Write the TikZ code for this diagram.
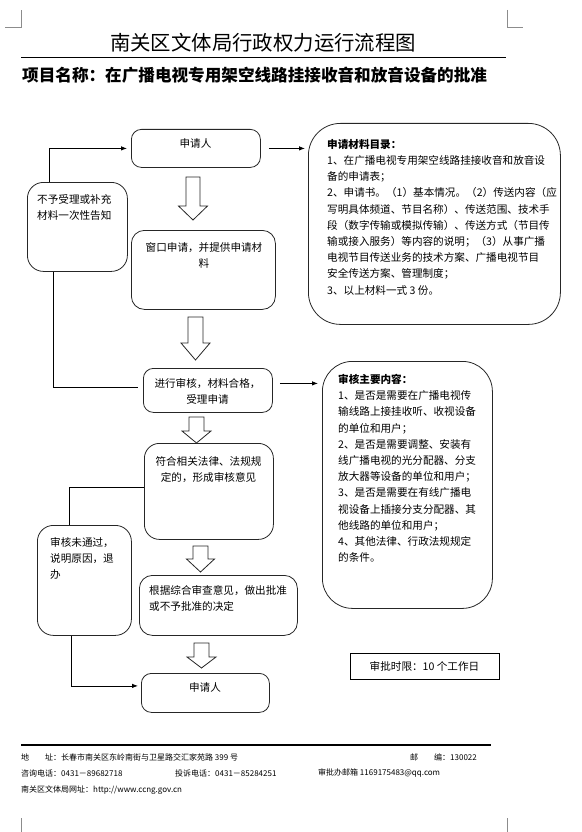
\documentclass[tikz,border=0pt]{standalone}
\usepackage{fontspec}
\setmainfont{Noto Sans CJK SC}
\usetikzlibrary{arrows.meta,calc}
\newcommand\hollowarr[6]{% cx, ytop, yhead, ytip, shaft half, head half
  \draw[hollow] ({#1-#5},#2) -- ({#1+#5},#2) -- ({#1+#5},#3) -- ({#1+#6},#3) -- (#1,#4)
    -- ({#1-#6},#3) -- ({#1-#5},#3) -- cycle;}
\begin{document}
\begin{tikzpicture}[x=1pt,y=-1pt,
  box/.style={draw=black!85, line width=0.8pt, rounded corners=#1, inner sep=0pt, anchor=north west},
  box/.default=10pt,
  txt/.style={inner sep=0pt, font=\fontsize{10.6}{16.2}\selectfont, align=left},
  btxt/.style={inner sep=0pt, font=\fontsize{10.6}{16.2}\selectfont, align=center},
  ftxt/.style={inner sep=0pt, font=\fontsize{8}{10}\selectfont, anchor=west},
  conn/.style={draw=black, line width=0.8pt},
  arr/.style={conn, -{Latex[length=6pt,width=4.5pt]}},
  hollow/.style={draw=black!85, line width=0.8pt, fill=white},
  cropmark/.style={draw=black!45, line width=0.7pt}
]
\useasboundingbox (0,0) rectangle (581,832);
% corner marks
\draw[cropmark] (5,27) -- (21,27) -- (21,10);
\draw[cropmark] (507,10) -- (507,27) -- (523,27);
\draw[cropmark] (21,818) -- (21,832);
\draw[cropmark] (507,818) -- (507,832);
% title
\node[inner sep=0pt, font=\fontsize{20.4}{24}\selectfont] (title) at (263,43) {南关区文体局行政权力运行流程图};
\draw[line width=0.8pt] (21,57) -- (506,57);
\node[inner sep=0pt, anchor=west, font=\fontsize{16.6}{20}\selectfont\bfseries] (sub) at (22,75) {项目名称：在广播电视专用架空线路挂接收音和放音设备的批准};
% boxes
\node[box=10pt, minimum width=129pt, minimum height=38pt] (ap1) at (131,129) {};
\node[btxt] (ap1t) at (195.5,143) {申请人};
\node[box=16pt, minimum width=100pt, minimum height=89pt] (nb) at (27,182) {};
\node[txt, anchor=north west] (nbt) at (37,194) {不予受理或补充\\材料一次性告知};
\node[box=13pt, minimum width=144pt, minimum height=79pt] (ck) at (131,230) {};
\node[btxt, anchor=north] (ckt) at (204,242) {窗口申请，并提供申请材\\料};
\node[box=32pt, minimum width=252pt, minimum height=201pt] (mat) at (308,123) {};
\node[txt, anchor=north west] (matt) at (327,139) {\textbf{申请材料目录：}\\
1、在广播电视专用架空线路挂接收音和放音设\\
备的申请表；\\
2、申请书。（1）基本情况。（2）传送内容（应\\
写明具体频道、节目名称）、传送范围、技术手\\
段（数字传输或模拟传输）、传送方式（节目传\\
输或接入服务）等内容的说明；（3）从事广播\\
电视节目传送业务的技术方案、广播电视节目\\
安全传送方案、管理制度；\\
3、以上材料一式 3 份。};
\node[box=10pt, minimum width=129pt, minimum height=44pt] (sh) at (143,368) {};
\node[btxt, anchor=north] (sht) at (207.5,378) {进行审核，材料合格，\\受理申请};
\node[box=30pt, minimum width=170pt, minimum height=247pt] (nr) at (322,361) {};
\node[txt, anchor=north west] (nrt) at (338,374) {\textbf{审核主要内容：}\\
1、是否是需要在广播电视传\\
输线路上接挂收听、收视设备\\
的单位和用户；\\
2、是否是需要调整、安装有\\
线广播电视的光分配器、分支\\
放大器等设备的单位和用户；\\
3、是否是需要在有线广播电\\
视设备上插接分支分配器、其\\
他线路的单位和用户；\\
4、其他法律、行政法规规定\\
的条件。};
\node[box=15pt, minimum width=129pt, minimum height=96pt] (fh) at (144,443) {};
\node[btxt, anchor=north] (fht) at (208.5,456) {符合相关法律、法规规\\定的，形成审核意见};
\node[box=16pt, minimum width=94pt, minimum height=110pt] (wtg) at (37,525) {};
\node[txt, anchor=north west] (wtgt) at (50,537) {审核未通过，\\说明原因，退\\办};
\node[box=13pt, minimum width=158pt, minimum height=60pt] (gj) at (139,575) {};
\node[txt, anchor=north west] (gjt) at (149,585) {根据综合审查意见，做出批准\\或不予批准的决定};
\node[box=10pt, minimum width=128pt, minimum height=39pt] (ap2) at (141,673) {};
\node[btxt] (ap2t) at (205,687) {申请人};
\node[draw=black, line width=1.3pt, inner sep=0pt, anchor=north west, minimum width=149pt, minimum height=26pt] (sx) at (350,653) {};
\node[btxt] (sxt) at (424.5,666) {审批时限：10 个工作日};
% connectors
\draw[arr, shorten >=4pt] ($(nb.north west)+(22,0)$) |- (ap1.west);
\draw[arr, shorten >=3pt] ($(ap1.east)+(8,0)$) -- (mat.west |- ap1.east);
\draw[conn] ($(nb.south west)+(26,0)$) |- ($(sh.west)+(-5,-3)$);
\draw[arr, shorten >=4pt] ($(sh.east)+(7,-7)$) -- ($(nr.west |- sh.east)+(0,-7)$);
\draw[conn] ($(fh.west)+(0,-4)$) -| ($(wtg.north west)+(32,0)$);
\draw[arr, shorten >=3pt] ($(wtg.south west)+(34,0)$) |- ($(ap2.west)+(0,-7)$);
% hollow arrows
\hollowarr{193}{177}{206}{220}{7}{14.5}
\hollowarr{195.5}{317}{343}{360}{7.5}{14.5}
\hollowarr{196.5}{417}{431}{443}{7.5}{14.5}
\hollowarr{200.5}{546}{559}{572}{7.5}{14}
\hollowarr{201.5}{643}{657}{668}{7.5}{14.5}
% footer
\draw[line width=1.8pt] (21,745) -- (491,745);
\node[ftxt] (f1) at (21,757) {地　　址：长春市南关区东岭南街与卫星路交汇家苑路 399 号};
\node[ftxt] (f2) at (410,757) {邮　　编：130022};
\node[ftxt] (f3) at (21,773) {咨询电话：0431－89682718};
\node[ftxt] (f4) at (175,773) {投诉电话：0431－85284251};
\node[ftxt] (f5) at (318,773) {审批办邮箱 1169175483@qq.com};
\node[ftxt] (f6) at (21,790) {南关区文体局网址：http://www.ccng.gov.cn};
\end{tikzpicture}
\end{document}
